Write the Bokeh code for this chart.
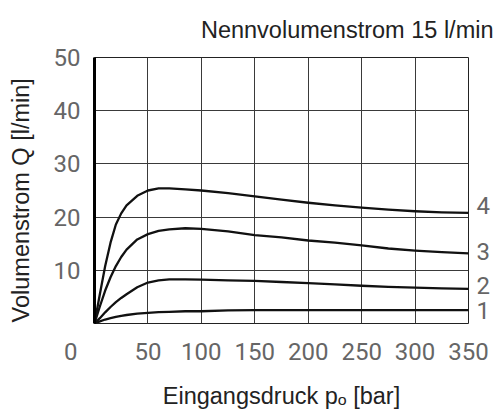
from bokeh.plotting import figure
from bokeh.models import Range1d, FixedTicker, LinearAxis, Title
from bokeh.embed import file_html
from bokeh.resources import INLINE

# ---- data ----
pressure = [0, 5, 10, 15, 20, 25, 30, 40, 50, 60, 70, 85, 100, 125, 150, 175,
            200, 225, 250, 275, 300, 325, 350]
flow_4 = [0, 5.5, 10.8, 15.2, 18.6, 20.7, 22.2, 24.0, 25.0, 25.4, 25.4, 25.2,
          25.0, 24.5, 23.9, 23.3, 22.7, 22.2, 21.8, 21.4, 21.1, 20.9, 20.8]
flow_3 = [0, 3.2, 6.2, 8.7, 10.8, 12.5, 13.9, 15.8, 16.8, 17.4, 17.7, 17.9,
          17.8, 17.3, 16.6, 16.2, 15.6, 15.2, 14.7, 14.1, 13.7, 13.4, 13.2]
flow_2 = [0, 1.0, 2.1, 3.1, 4.0, 4.8, 5.5, 6.8, 7.7, 8.1, 8.3, 8.3,
          8.25, 8.1, 8.0, 7.8, 7.6, 7.35, 7.1, 6.9, 6.75, 6.6, 6.5]
flow_1 = [0, 0.4, 0.75, 1.0, 1.25, 1.45, 1.6, 1.85, 2.0, 2.15, 2.2, 2.3,
          2.3, 2.45, 2.5, 2.5, 2.5, 2.5, 2.5, 2.5, 2.5, 2.5, 2.5]
curve_names = ["4", "3", "2", "1"]
x_ticks = [0, 50, 100, 150, 200, 250, 300, 350]
y_ticks = [10, 20, 30, 40, 50]
title_text = "Nennvolumenstrom 15 l/min"
x_label_text = "Eingangsdruck p\u2092 [bar]"
y_label_text = "Volumenstrom Q [l/min]"

TICK_FONT = "Roboto"
TICK_COLOR = "#666666"
TICK_SIZE = "24px"
LABEL_FONT = "Liberation Sans"
LABEL_COLOR = "#222222"

p = figure(width=494, height=412, output_backend="svg", toolbar_location=None,
           x_range=Range1d(0, 350), y_range=Range1d(0, 50),
           min_border_left=94, min_border_right=26, min_border_top=57,
           min_border_bottom=89)
p.title = None
p.background_fill_color = "white"
p.border_fill_color = "white"
p.outline_line_color = "#222222"
p.outline_line_width = 1

# grid (no line at 0)
p.xgrid.ticker = FixedTicker(ticks=[t for t in x_ticks if t > 0])
p.ygrid.ticker = FixedTicker(ticks=y_ticks)
for g in (p.xgrid, p.ygrid):
    g.grid_line_color = "#3a3a3a"
    g.grid_line_width = 1

p.xaxis.ticker = FixedTicker(ticks=x_ticks)
p.yaxis.ticker = FixedTicker(ticks=y_ticks)
# the shared origin "0" sits left of the corner
p.xaxis.major_label_overrides = {0: "0" + "\u00a0" * 8}

for ax in (p.xaxis, p.yaxis):
    ax.major_tick_line_color = None
    ax.minor_tick_line_color = None
    ax.major_tick_out = 0
    ax.major_tick_in = 0
    ax.minor_tick_out = 0
    ax.minor_tick_in = 0
    ax.major_label_text_font = TICK_FONT
    ax.major_label_text_font_size = TICK_SIZE
    ax.major_label_text_color = TICK_COLOR
    ax.axis_label_text_font = LABEL_FONT
    ax.axis_label_text_font_style = "normal"
    ax.axis_label_text_color = LABEL_COLOR
p.xaxis.axis_line_color = None
p.xaxis.major_label_standoff = 14
p.xaxis.axis_label = x_label_text
p.xaxis.axis_label_text_font_size = "23.5px"
p.xaxis.axis_label_standoff = 14
p.yaxis.axis_line_color = "black"
p.yaxis.axis_line_width = 3
p.yaxis.major_label_standoff = 14
# trailing no-break spaces move the centred label a little down the axis
p.yaxis.axis_label = y_label_text + "\u00a0" * 3
p.yaxis.axis_label_text_font_size = "23.5px"
p.yaxis.axis_label_standoff = 17

curves = [flow_4, flow_3, flow_2, flow_1]
for ys in curves:
    p.line(pressure, ys, line_color="#111111", line_width=2.3,
           line_join="round", line_cap="round")

# curve numbers at the right end, drawn by a right-hand axis
px_per_unit = (323 - 57) / 50.0
label_nudge_px = [7, 2, 3, 0]
num_ticks = [round(ys[-1] + d / px_per_unit, 2) for ys, d in zip(curves, label_nudge_px)]
right_axis = LinearAxis(ticker=FixedTicker(ticks=num_ticks),
                        major_label_overrides={t: n for t, n in zip(num_ticks, curve_names)})
right_axis.axis_line_color = None
right_axis.major_tick_line_color = None
right_axis.minor_tick_line_color = None
right_axis.major_tick_out = 0
right_axis.major_tick_in = 0
right_axis.minor_tick_out = 0
right_axis.minor_tick_in = 0
right_axis.major_label_standoff = 8
right_axis.major_label_text_font = TICK_FONT
right_axis.major_label_text_font_size = TICK_SIZE
right_axis.major_label_text_color = TICK_COLOR
p.add_layout(right_axis, "right")

# title, right aligned beyond the frame edge
p.add_layout(Title(text=title_text, align="right", offset=-25,
                   vertical_align="middle", standoff=27,
                   text_font=LABEL_FONT, text_font_size="23.5px",
                   text_font_style="normal", text_color=LABEL_COLOR), "above")

open("out.html", "w").write(file_html(p, INLINE))
